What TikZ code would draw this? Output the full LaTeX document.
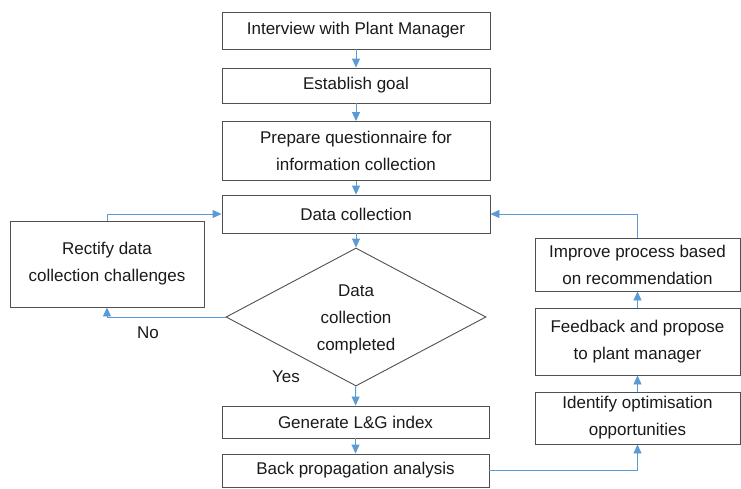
\documentclass[tikz,border=0pt]{standalone}
\usepackage{fontspec}
\setmainfont{Liberation Sans}
\usetikzlibrary{shapes.geometric,arrows.meta}
\definecolor{boxline}{HTML}{505050}
\definecolor{arrowblue}{HTML}{5B9BD5}
\definecolor{txt}{HTML}{1A1A1A}
\begin{document}
\begin{tikzpicture}[x=1pt,y=-1pt,
  every node/.style={font=\fontsize{17pt}{27pt}\selectfont, text=txt},
  procbox/.style={draw=boxline, line width=0.9pt, fill=white, inner sep=0pt, align=center, minimum width=268pt},
  rbox/.style={draw=boxline, line width=0.9pt, fill=white, inner sep=0pt, align=center, minimum width=205pt},
  flow/.style={draw=arrowblue, line width=0.9pt, -{Triangle[width=8pt,length=9pt]}}
]
\useasboundingbox (0,0) rectangle (741,488);
\node[procbox, minimum height=37pt] (b1) at (356,30.5) {Interview with Plant Manager};
\node[procbox, minimum height=35pt] (b2) at (356,85.5) {Establish goal};
\node[procbox, minimum height=59pt] (b3) at (356,151) {Prepare questionnaire for\\information collection};
\node[procbox, minimum height=38pt] (b4) at (356,214) {Data collection};
\node[draw=boxline, line width=0.9pt, shape=diamond, minimum width=260pt, minimum height=138pt, inner sep=0pt] (dia) at (356,317) {};
\node[align=center] (diatext) at (356,319) {Data\\collection\\completed};
\node[procbox, minimum width=194pt, minimum height=86pt] (rect) at (107,264) {Rectify data\\collection challenges};
\node[procbox, minimum width=267pt, minimum height=32pt] (g) at (355.5,422) {Generate L\&G index};
\node[procbox, minimum width=267pt, minimum height=33pt] (bp) at (355.5,470.5) {Back propagation analysis};
\node[rbox, minimum height=53pt] (imp) at (637.5,264.5) {Improve process based\\on recommendation};
\node[rbox, minimum height=67pt] (fb) at (637.5,341.5) {Feedback and propose\\to plant manager};
\node[rbox, minimum height=52pt] (id) at (637.5,418) {Identify optimisation\\opportunities};
\node (no) at (148,333) {No};
\node (yes) at (286,377) {Yes};
\draw[flow] (b1) -- (b2);
\draw[flow] (b2) -- (b3);
\draw[flow] (b3) -- (b4);
\draw[flow] (b4) -- (dia);
\draw[flow] (dia) -- (g);
\draw[flow] (g) -- (bp);
\draw[flow] (dia.west) -| (rect.south);
\draw[flow] (rect.north) |- (b4.west);
\draw[flow] (bp.east) -| (id.south);
\draw[flow] (id) -- (fb);
\draw[flow] (fb) -- (imp);
\draw[flow] (imp.north) |- (b4.east);
\end{tikzpicture}
\end{document}
